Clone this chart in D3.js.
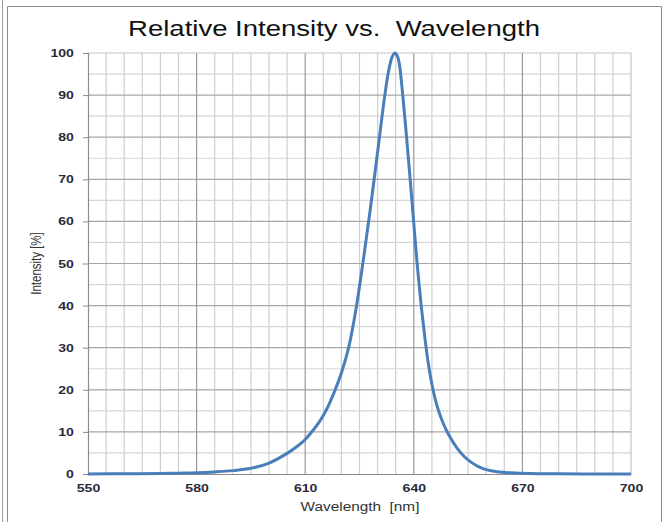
<!DOCTYPE html>
<html>
<head>
<meta charset="utf-8">
<script src="https://cdn.jsdelivr.net/npm/d3@7"></script>
<style>
  body { margin: 0; background: #fff; }
  svg { display: block; font-family: "Liberation Sans", Arial, sans-serif; }
</style>
</head>
<body>
<div id="chart"></div>
<script>
// spectrum
let wavelengths = [550, 560, 570, 575, 580, 585, 590, 595, 600, 605, 608, 610, 612, 614, 616, 618, 620, 622, 624, 626, 628, 630, 632, 633, 634, 634.8,
    635.5, 636, 637, 638, 639, 640, 641, 642, 643, 644, 645, 646, 647, 648, 649, 650, 652, 654, 656, 658, 660, 663, 667, 672, 680, 690, 700];
let intensity = [0.02, 0.05, 0.12, 0.2, 0.3, 0.5, 0.8, 1.35, 2.6, 4.9, 6.7, 8.2, 10.2, 12.5, 15.5, 19.4, 24, 30, 39, 50.5, 63, 76.5, 90, 95.5, 99, 100,
    99.2, 97.5, 89.5, 80, 70, 59.5, 49.2, 40.3, 32.8, 26.3, 21.3, 17.5, 14.6, 12.3, 10.4, 8.8, 6.1, 4.1, 2.7, 1.7, 1.05, 0.55, 0.28, 0.12, 0.05, 0.02, 0.01];
let xTicks = [550, 580, 610, 640, 670, 700];
let yTicks = [0, 10, 20, 30, 40, 50, 60, 70, 80, 90, 100];

let svgWidth = 665;
let svgHeight = 522;
let margin = { top: 53, right: 34, bottom: 48, left: 88 };
let width = svgWidth - margin.left - margin.right;
let height = svgHeight - margin.top - margin.bottom;
// the picture is stretched sideways, so are its glyphs
let stretch = 1.28;

let svg = d3.select('#chart')
    .append('svg')
    .attr('width', svgWidth)
    .attr('height', svgHeight);

// outer frame
svg.append('line')
    .attr('x1', 2.5).attr('x2', 2.5).attr('y1', 0).attr('y2', svgHeight)
    .attr('stroke', '#9a9a9a');
svg.append('path')
    .attr('d', `M7.5,${svgHeight} V6.5 H661.5 V${svgHeight}`)
    .attr('fill', 'none')
    .attr('stroke', '#8c8c8c');

let chartgroup = svg.append('g')
    .attr('transform', `translate(${margin.left},${margin.top})`);

let xScale = d3.scaleLinear().domain([550, 700]).range([0, width]);
let yScale = d3.scaleLinear().domain([0, 100]).range([height, 0]);

// grid: minor lines every 5, major every 30 (x) / 10 (y)
let xMinor = d3.range(555, 700, 5).filter(v => (v - 550) % 30 !== 0);
let xMajor = xTicks.slice(1, -1);
let yMinor = d3.range(5, 100, 10);
let yMajor = yTicks.slice(1, -1);

chartgroup.append('g').selectAll('line')
    .data(xMinor).enter().append('line')
    .attr('x1', d => xScale(d)).attr('x2', d => xScale(d))
    .attr('y1', 0).attr('y2', height)
    .attr('stroke', '#cfcfcf').attr('stroke-width', 1.2);
chartgroup.append('g').selectAll('line')
    .data(yMinor).enter().append('line')
    .attr('x1', 0).attr('x2', width)
    .attr('y1', d => yScale(d)).attr('y2', d => yScale(d))
    .attr('stroke', '#d6d6d6').attr('stroke-width', 1.2);
chartgroup.append('g').selectAll('line')
    .data(yMajor).enter().append('line')
    .attr('x1', 0).attr('x2', width)
    .attr('y1', d => yScale(d)).attr('y2', d => yScale(d))
    .attr('stroke', '#a6a6a6').attr('stroke-width', 1.2);
chartgroup.append('g').selectAll('line')
    .data(xMajor).enter().append('line')
    .attr('x1', d => xScale(d)).attr('x2', d => xScale(d))
    .attr('y1', 0).attr('y2', height)
    .attr('stroke', '#9a9a9a').attr('stroke-width', 1.2);

// plot border (top/right light, left/bottom axis)
chartgroup.append('path')
    .attr('d', `M0,0 H${width} V${height}`)
    .attr('fill', 'none')
    .attr('stroke', '#c4c4c4').attr('stroke-width', 1.2);

// y axis with left ticks
let LAxis = d3.axisLeft(yScale).tickValues(yTicks).tickSize(5).tickPadding(6);
let yAxisG = chartgroup.append('g').call(LAxis);
yAxisG.select('.domain').attr('stroke', '#8c8c8c').attr('stroke-width', 1.2);
yAxisG.selectAll('.tick line').attr('stroke', '#8c8c8c');
yAxisG.selectAll('.tick text')
    .attr('font-family', '"Liberation Sans", Arial, sans-serif')
    .attr('font-size', '11px')
    .attr('font-weight', 'bold')
    .attr('fill', '#2a2a3a')
    .attr('transform', `scale(${stretch},1)`);

// x axis, labels only
let BAxis = d3.axisBottom(xScale).tickValues(xTicks).tickSize(0).tickPadding(10);
let xAxisG = chartgroup.append('g')
    .attr('transform', `translate(0, ${height})`)
    .call(BAxis);
xAxisG.select('.domain').attr('stroke', '#8c8c8c').attr('stroke-width', 1.2);
xAxisG.selectAll('.tick text')
    .attr('font-family', '"Liberation Sans", Arial, sans-serif')
    .attr('font-size', '11px')
    .attr('font-weight', 'bold')
    .attr('fill', '#2a2a3a')
    .attr('transform', `scale(${stretch},1)`);

// spectrum curve
let points = wavelengths.map((w, i) => [w, intensity[i]]);
let line = d3.line()
    .x(d => xScale(d[0]))
    .y(d => yScale(d[1]))
    .curve(d3.curveCatmullRom.alpha(0.5));
chartgroup.append('path')
    .datum(points)
    .attr('d', line)
    .attr('fill', 'none')
    .attr('stroke', '#4a7ebb')
    .attr('stroke-width', 3)
    .attr('stroke-linejoin', 'round');

// title and axis labels
svg.append('text')
    .attr('transform', `translate(334, 36) scale(${stretch},1)`)
    .attr('text-anchor', 'middle')
    .attr('font-size', '21.5px')
    .attr('fill', '#111')
    .attr('xml:space', 'preserve')
    .text('Relative Intensity vs.  Wavelength');

svg.append('text')
    .attr('transform', `translate(360, 511) scale(${stretch},1)`)
    .attr('text-anchor', 'middle')
    .attr('font-size', '12px')
    .attr('fill', '#333')
    .attr('xml:space', 'preserve')
    .text('Wavelength  [nm]');

svg.append('text')
    .attr('transform', `translate(41, ${margin.top + height / 2}) rotate(-90) scale(1,${stretch})`)
    .attr('text-anchor', 'middle')
    .attr('font-size', '11.5px')
    .attr('fill', '#333')
    .text('Intensity [%]');
</script>
</body>
</html>
